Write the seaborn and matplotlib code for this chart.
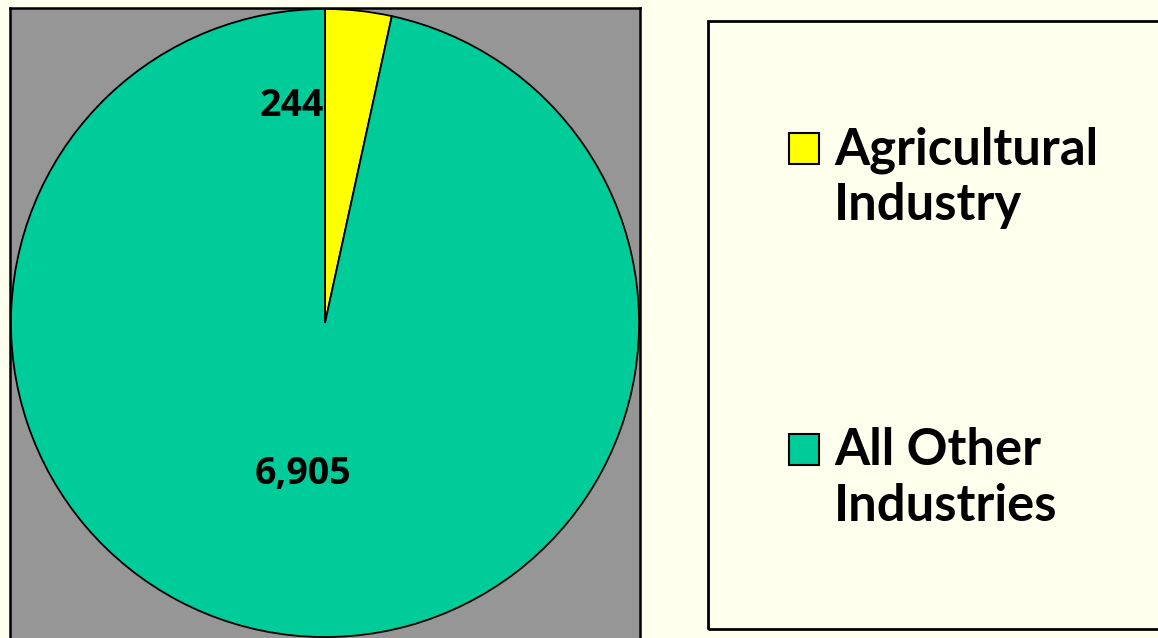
import matplotlib
matplotlib.use("Agg")
import matplotlib.pyplot as plt
import seaborn as sns
from matplotlib.patches import Rectangle

# data
categories = ["Agricultural\nIndustry", "All Other\nIndustries"]
values = [244, 6905]
value_labels = ["244", "6,905"]
colors = ["#FFFF00", "#00CC99"]

sns.set_theme(style="white")
plt.rcParams["font.family"] = ["Open Sans", "DejaVu Sans"]
plt.rcParams["text.color"] = "black"

W, H = 1158, 638
fig = plt.figure(figsize=(W / 100, H / 100), dpi=100, facecolor="#FFFFEE")

# pie area (gray box)
ax = fig.add_axes([10 / W, 0, 630 / W, 630 / H])
wedges, texts = ax.pie(
    values,
    colors=colors,
    labels=value_labels,
    startangle=90,
    counterclock=False,
    frame=True,
    wedgeprops=dict(edgecolor="black", linewidth=1.3),
    textprops=dict(fontsize=27, fontweight="bold", color="black"),
)
ax.set_xlim(-1.003, 1.003)
ax.set_ylim(-1.003, 1.003)
ax.set_xticks([])
ax.set_yticks([])
ax.set_facecolor("#969696")
for side in ["left", "top", "right"]:
    ax.spines[side].set_color("black")
    ax.spines[side].set_linewidth(1.8)
ax.spines["bottom"].set_visible(False)

texts[0].set_position((-0.005, 0.69))
texts[0].set_ha("right")
texts[0].set_va("center")
texts[1].set_position((-0.07, -0.48))
texts[1].set_ha("center")
texts[1].set_va("center")

# legend box
fig.patches.append(Rectangle((708 / W, (H - 629) / H), 460 / W, 608 / H,
                             transform=fig.transFigure, facecolor="none",
                             edgecolor="black", linewidth=2, clip_on=False))

square_tops = [133, 434]
baselines = [164, 465]
for cat, col, top, base in zip(categories, colors, square_tops, baselines):
    fig.patches.append(Rectangle((789 / W, (H - top - 31) / H), 30 / W, 31 / H,
                                 transform=fig.transFigure, facecolor=col,
                                 edgecolor="black", linewidth=1.5))
    for i, line in enumerate(cat.split("\n")):
        fig.text(834 / W, (H - base - i * 56) / H, line, fontsize=36.5,
                 fontweight="bold", ha="left", va="baseline", color="black",
                 family=["Lato", "DejaVu Sans"])

fig.savefig("out.png", dpi=100, facecolor=fig.get_facecolor())
